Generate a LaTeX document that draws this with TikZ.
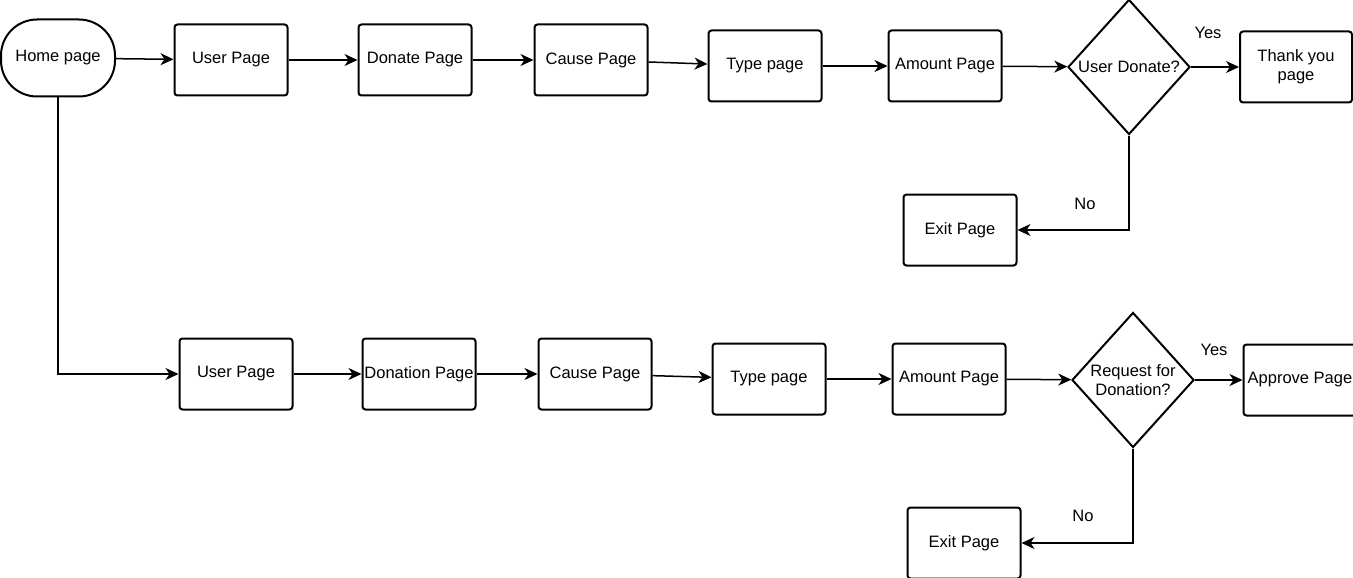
\documentclass[tikz,border=0pt]{standalone}
\usepackage{fontspec}
\setmainfont{Liberation Sans}
\usepackage{tikz}
\usetikzlibrary{arrows.meta}
\usetikzlibrary{shapes.geometric}
\tikzstyle{every node}=[font=\fontsize{16.5}{19}\selectfont]
\tikzstyle{pagebox}=[draw, line width=2pt, rounded corners=3pt, minimum width=113pt, minimum height=71pt, inner sep=0pt]
\tikzstyle{startbox}=[draw, line width=2pt, rounded corners=36pt, minimum width=114pt, minimum height=77pt, inner sep=0pt]
\tikzstyle{choicebox}=[draw, diamond, line width=2pt, minimum width=122pt, minimum height=135pt, inner sep=0pt, align=center]
\tikzstyle{link}=[line width=1.5pt, -{Stealth[length=13pt,width=12pt,inset=4pt]}]

\begin{document}
\begin{tikzpicture}[x=1pt, y=-1pt]
                \useasboundingbox (0, 0) rectangle (1353, 578);
                % first row
                \node [startbox] (home) at (58, 58) {Home page};
                \node [pagebox] (user1) at (231, 60) {User Page};
                \node [pagebox] (donate) at (415, 60) {Donate Page};
                \node [pagebox] (cause1) at (591, 60) {Cause Page};
                \node [pagebox] (type1) at (765, 66) {Type page};
                \node [pagebox] (amount1) at (945, 66) {Amount Page};
                \node [choicebox] (askdonate) at (1129, 67) {User Donate?};
                \node [pagebox, minimum width=112pt, align=center] (thanks) at (1296, 67) {Thank you\\page};
                \node [pagebox] (exit1) at (960, 230) {Exit Page};
                \node (yes1) at (1208, 33) {Yes};
                \node (no1) at (1085, 204) {No};
                % second row
                \node [pagebox] (user2) at (236, 374) {User Page};
                \node [pagebox] (donation) at (419, 374) {Donation Page};
                \node [pagebox] (cause2) at (595, 374) {Cause Page};
                \node [pagebox] (type2) at (769, 379) {Type page};
                \node [pagebox] (amount2) at (949, 379) {Amount Page};
                \node [choicebox] (askrequest) at (1133, 380) {Request for\\Donation?};
                \node [pagebox] (approve) at (1300, 380) {Approve Page};
                \node [pagebox] (exit2) at (964, 543) {Exit Page};
                \node (yes2) at (1214, 350) {Yes};
                \node (no2) at (1083, 516) {No};

                \draw [link] (home) -- (user1);
                \draw [link] (user1) -- (donate);
                \draw [link] (donate) -- (cause1);
                \draw [link] (cause1) -- (type1);
                \draw [link] (type1) -- (amount1);
                \draw [link] (amount1) -- (askdonate);
                \draw [link] (askdonate) -- (thanks);
                \draw [link] (askdonate.south) |- (exit1);
                \draw [link] (home.south) |- (user2);
                \draw [link] (user2) -- (donation);
                \draw [link] (donation) -- (cause2);
                \draw [link] (cause2) -- (type2);
                \draw [link] (type2) -- (amount2);
                \draw [link] (amount2) -- (askrequest);
                \draw [link] (askrequest) -- (approve);
                \draw [link] (askrequest.south) |- (exit2);
            \end{tikzpicture}
\end{document}
